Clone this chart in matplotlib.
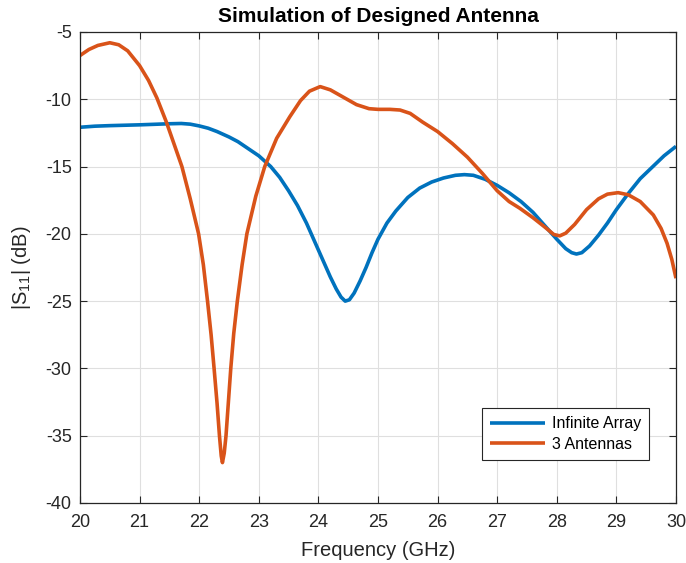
import matplotlib.pyplot as plt

# Infinite Array
freq_inf = [20, 20.25, 20.5, 20.75, 21, 21.25, 21.5, 21.7, 21.85, 22, 22.15, 22.3,
            22.5, 22.65, 22.8, 23, 23.2, 23.35, 23.5, 23.65, 23.8, 23.9, 24, 24.1,
            24.2, 24.3, 24.38, 24.45, 24.52, 24.6, 24.7, 24.8, 24.9, 25, 25.15, 25.3,
            25.5, 25.7, 25.9, 26.1, 26.3, 26.45, 26.6, 26.8, 27, 27.2, 27.4, 27.6,
            27.8, 28, 28.15, 28.25, 28.33, 28.42, 28.55, 28.7, 28.85, 29, 29.2, 29.4,
            29.6, 29.8, 30]
s11_inf = [-12.08, -12.0, -11.96, -11.93, -11.9, -11.86, -11.82, -11.8, -11.85, -11.98, -12.15, -12.4,
           -12.8, -13.15, -13.6, -14.2, -15.0, -15.8, -16.8, -17.9, -19.2, -20.2, -21.2, -22.2,
           -23.2, -24.1, -24.7, -25.0, -24.9, -24.4, -23.5, -22.5, -21.4, -20.4, -19.2, -18.3,
           -17.3, -16.6, -16.15, -15.85, -15.65, -15.6, -15.65, -15.95, -16.4, -16.95, -17.6, -18.4,
           -19.4, -20.4, -21.1, -21.4, -21.5, -21.4, -20.9, -20.1, -19.2, -18.2, -17.0, -15.9,
           -15.05, -14.2, -13.5]

# 3 Antennas
freq_3 = [20, 20.15, 20.3, 20.5, 20.65, 20.8, 21, 21.15, 21.29, 21.45, 21.6, 21.71,
          21.85, 21.99, 22.07, 22.14, 22.2, 22.25, 22.3, 22.34, 22.37, 22.39, 22.42, 22.45,
          22.49, 22.53, 22.58, 22.64, 22.72, 22.8, 22.95, 23.1, 23.3, 23.52, 23.7, 23.85,
          24.03, 24.2, 24.4, 24.64, 24.85, 25.0, 25.2, 25.37, 25.54, 25.75, 26.0, 26.25,
          26.5, 26.75, 27.0, 27.2, 27.38, 27.6, 27.8, 27.95, 28.05, 28.15, 28.3, 28.5,
          28.7, 28.85, 29.03, 29.2, 29.4, 29.62, 29.75, 29.85, 29.93, 30]
s11_3 = [-6.75, -6.3, -6.0, -5.8, -5.95, -6.4, -7.5, -8.6, -9.9, -11.7, -13.6, -15.0,
         -17.4, -20.0, -22.3, -25.0, -27.5, -30.0, -32.6, -35.0, -36.5, -37.0, -36.3, -35.0,
         -32.5, -30.0, -27.4, -25.0, -22.3, -20.0, -17.2, -15.0, -12.9, -11.3, -10.1, -9.4,
         -9.06, -9.3, -9.8, -10.4, -10.7, -10.75, -10.75, -10.8, -11.05, -11.7, -12.4, -13.3,
         -14.3, -15.5, -16.8, -17.6, -18.1, -18.8, -19.5, -20.05, -20.15, -19.95, -19.3, -18.2,
         -17.4, -17.05, -16.94, -17.1, -17.6, -18.6, -19.6, -20.7, -21.9, -23.3]

plt.rcParams['font.family'] = ['Liberation Sans', 'DejaVu Sans']
plt.rcParams['axes.unicode_minus'] = False
plt.rcParams['mathtext.default'] = 'regular'

fig = plt.figure(figsize=(6.86, 5.63), dpi=100)
ax = fig.add_axes([0.1166, 0.1066, 0.8688, 0.8366])
ax.plot(freq_inf, s11_inf, color='#0072BD', lw=2.6, label='Infinite Array',
        solid_joinstyle='round', solid_capstyle='butt')
ax.plot(freq_3, s11_3, color='#D95319', lw=2.6, label='3 Antennas',
        solid_joinstyle='round', solid_capstyle='butt')

ax.set_xlim(20, 30)
ax.set_ylim(-40, -5)
ax.set_xticks(range(20, 31))
ax.set_yticks(range(-40, -4, 5))
ax.grid(True, color='#dfdfdf', lw=0.8)
ax.tick_params(direction='in', top=True, right=True, labelsize=13, length=5,
               color='#262626', labelcolor='#262626')
ax.tick_params(axis='x', pad=8)
ax.tick_params(axis='y', pad=6)
for s in ax.spines.values():
    s.set_color('#262626')
    s.set_linewidth(0.9)

ax.set_title('Simulation of Designed Antenna', fontsize=15, fontweight='bold', pad=7)
ax.set_xlabel('Frequency (GHz)', fontsize=14.5, color='#262626', labelpad=7)
ax.set_ylabel('|S$_{11}$| (dB)', fontsize=14.5, color='#262626', labelpad=9)

leg = ax.legend(loc='lower right', bbox_to_anchor=(0.9547, 0.0913), borderaxespad=0,
                fontsize=11.5, fancybox=False, edgecolor='#262626', framealpha=1,
                handlelength=3.4, handletextpad=0.45, borderpad=0.5, labelspacing=0.35)
leg.get_frame().set_linewidth(0.8)

fig.savefig('out.png', dpi=100)
